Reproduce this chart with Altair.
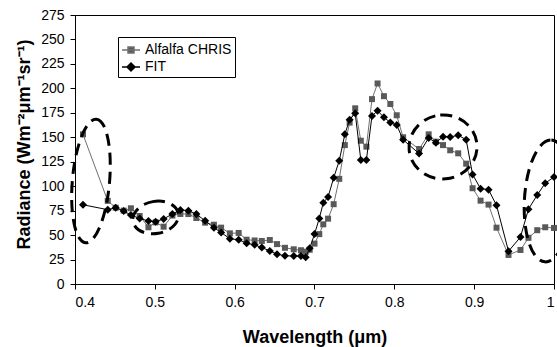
import altair as alt
import pandas as pd

# ---- data ----
wavelength = [0.410, 0.441, 0.451, 0.461, 0.470, 0.481, 0.492, 0.501, 0.511, 0.522,
              0.532, 0.542, 0.552, 0.563, 0.574, 0.583, 0.594, 0.605, 0.615, 0.625,
              0.634, 0.644, 0.653, 0.663, 0.674, 0.683, 0.689, 0.694, 0.700, 0.706,
              0.711, 0.717, 0.724, 0.731, 0.738, 0.744, 0.751, 0.758, 0.765, 0.772,
              0.779, 0.787, 0.795, 0.803, 0.811, 0.831, 0.843, 0.852, 0.861, 0.870,
              0.880, 0.890, 0.898, 0.908, 0.918, 0.928, 0.943, 0.958, 0.968, 0.979,
              0.989, 1.000]
alfalfa = [153, 85, 78, 75, 77.4, 69.5, 58, 63, 58.6, 70,
           71.6, 71.5, 67.5, 62.7, 60.6, 57.6, 51.8, 52.2, 45.3, 44.5,
           44, 45, 40.8, 37, 35.5, 34.5, 33, 35, 41.3, 51,
           61, 66.8, 81.6, 107.5, 142, 165, 179.6, 146.5, 140.4, 189,
           205, 192, 184, 172.5, 150, 138, 153, 145.5, 142, 136.7,
           133.6, 123, 97.9, 85.2, 81.2, 57.6, 29.7, 34.8, 47.2, 55,
           58, 57.3]
fit = [81, 76, 78, 74.6, 70.5, 67, 64.4, 63.7, 66.5, 71.6,
       75.7, 75, 71.5, 64.6, 57.6, 52.7, 46.2, 45.3, 41.6, 40,
       37.3, 33.8, 30.5, 28.8, 28.6, 28.6, 27.3, 36.5, 51, 67,
       83, 89, 108.5, 126, 153, 168, 174.5, 126.8, 126.8, 171.8,
       177, 170.5, 165, 162.5, 147.5, 133.3, 149.3, 144.5, 150.6, 150.3,
       152, 147.5, 112, 97.5, 96.4, 80.4, 33.5, 48, 76.5, 91,
       103, 109.4]
series_names = ["Alfalfa CHRIS", "FIT"]
x_ticks = [0.4, 0.5, 0.6, 0.7, 0.8, 0.9, 1.0]
y_ticks = [0, 25, 50, 75, 100, 125, 150, 175, 200, 225, 250, 275]

# annotation ellipse centres (wavelength, radiance)
ellipse_centres = [(0.420, 105.3), (0.501, 68.0), (0.861, 140.1), (0.9927, 84.9)]

df = pd.DataFrame({
    "wl": wavelength + wavelength,
    "rad": alfalfa + fit,
    "series": [series_names[0]] * len(wavelength) + [series_names[1]] * len(wavelength),
})

FONT = "Liberation Sans"

x_enc = alt.X("wl:Q",
              scale=alt.Scale(domain=[0.4, 1.0], nice=False, zero=False),
              axis=alt.Axis(title="Wavelength (μm)", values=x_ticks, format=".1~f",
                            labelOverlap=False,
                            titleY=58, titleBaseline="alphabetic"))
y_enc = alt.Y("rad:Q",
              scale=alt.Scale(domain=[0, 275], nice=False),
              axis=alt.Axis(title="Radiance (Wm⁻²μm⁻¹sr⁻¹)", values=y_ticks,
                            labelOverlap=False, tickCount=12,
                            titleX=-46, titleY=129, titleBaseline="alphabetic",
                            titleAngle=270))

base = alt.Chart(df)

line_a = base.transform_filter(alt.datum.series == series_names[0]).mark_line(
    strokeWidth=1, color="#707070").encode(x=x_enc, y=y_enc)
pts_a = base.transform_filter(alt.datum.series == series_names[0]).mark_point(
    shape="square", filled=True, size=36, color="#595959", opacity=1).encode(x="wl:Q", y="rad:Q")
line_f = base.transform_filter(alt.datum.series == series_names[1]).mark_line(
    strokeWidth=1, color="#000000").encode(x="wl:Q", y="rad:Q")
pts_f = base.transform_filter(alt.datum.series == series_names[1]).mark_point(
    shape="diamond", filled=True, size=64, color="#000000", opacity=1).encode(x="wl:Q", y="rad:Q")

# legend symbols: a line with the marker on it
sym_a = "M-1,0L1,0M-0.333,-0.333L0.333,-0.333L0.333,0.333L-0.333,0.333Z"
sym_f = "M-1,0L1,0M0,-0.44L0.44,0L0,0.44L-0.44,0Z"

legend_layer = base.transform_filter("false").mark_point(
    filled=True, size=324, opacity=1, strokeWidth=1).encode(
    x="wl:Q", y="rad:Q",
    fill=alt.Fill("series:N", title=None,
                  scale=alt.Scale(domain=series_names, range=["#595959", "#000000"])),
    stroke=alt.Stroke("series:N", title=None,
                      scale=alt.Scale(domain=series_names, range=["#707070", "#000000"])),
    shape=alt.Shape("series:N", title=None,
                    scale=alt.Scale(domain=series_names, range=[sym_a, sym_f])),
)


def ellipse_path(rx, ry):
    k = 0.5523
    return (f"M0,{-ry}C{k*rx:.4f},{-ry},{rx},{-k*ry:.4f},{rx},0"
            f"C{rx},{k*ry:.4f},{k*rx:.4f},{ry},0,{ry}"
            f"C{-k*rx:.4f},{ry},{-rx},{k*ry:.4f},{-rx},0"
            f"C{-rx},{-k*ry:.4f},{-k*rx:.4f},{-ry},0,{-ry}Z")


ellipse_specs = [
    (0.30, 1.0, 62, 5),
    (1.0, 0.70, 23, 350),
    (1.0, 0.94, 34, 355),
    (0.39, 1.0, 61, 3),
]

ellipses = []
for (cx, cy), (rx, ry, semi, ang) in zip(ellipse_centres, ellipse_specs):
    ellipses.append(
        alt.Chart(alt.Data(values=[{}])).mark_point(
            shape=ellipse_path(rx, ry), size=4 * semi * semi, angle=ang,
            filled=False, stroke="black", strokeWidth=3, strokeDash=[12, 7],
            opacity=1
        ).encode(x=alt.datum(cx), y=alt.datum(cy))
    )

chart = alt.layer(line_a, pts_a, line_f, pts_f, legend_layer, *ellipses).properties(
    width=479, height=269,
    autosize=alt.AutoSizeParams(type="none"),
    padding={"left": 75, "top": 15, "right": 3, "bottom": 63},
    background="white",
).configure_view(
    stroke="black", strokeWidth=1
).configure_axis(
    grid=False, domainColor="black", domainWidth=1, tickColor="black", tickSize=5,
    labelFont=FONT, labelFontSize=14, labelColor="black", labelPadding=6,
    labelOverlap=False,
    titleFont=FONT, titleFontSize=18, titleFontWeight="bold", titleColor="black",
).configure_legend(
    orient="none", legendX=43, legendY=22, strokeColor="black", fillColor="white",
    padding=3, rowPadding=0, labelFont=FONT, labelFontSize=14, labelColor="black",
    labelOffset=4, symbolSize=324, cornerRadius=0,
)

chart.save("out.html", embed_options={"renderer": "svg", "actions": False})
